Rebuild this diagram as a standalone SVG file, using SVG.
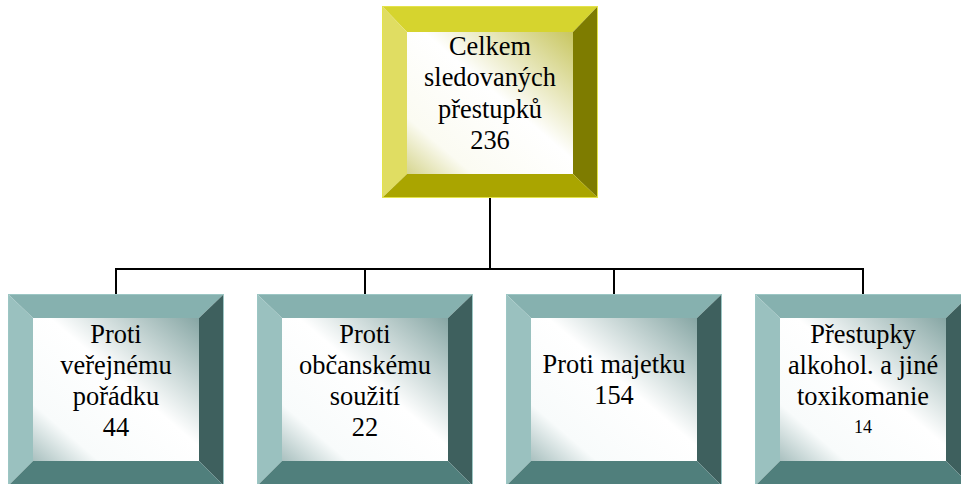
<svg xmlns="http://www.w3.org/2000/svg" width="961" height="484" viewBox="0 0 961 484">
<defs>
<linearGradient id="gy" x1="1" y1="0" x2="0" y2="1">
<stop offset="0" stop-color="#c8c660"/>
<stop offset="0.45" stop-color="#ffffff"/>
<stop offset="0.8" stop-color="#fbfbf2"/>
<stop offset="1" stop-color="#d6d58f"/>
</linearGradient>
<linearGradient id="gt" x1="1" y1="0" x2="0" y2="1">
<stop offset="0" stop-color="#86a6a4"/>
<stop offset="0.45" stop-color="#ffffff"/>
<stop offset="0.8" stop-color="#f8fbfb"/>
<stop offset="1" stop-color="#a9c0bf"/>
</linearGradient>
<style>
.y .tp{fill:#d6d42e}.y .lf{fill:#e0dd62}.y .rt{fill:#7e7c00}.y .bt{fill:#aaa500}.y .in{fill:url(#gy)}
.y .ol{fill:none;stroke:#e4e34a;stroke-width:1}
.c .tp{fill:#86b1af}.c .lf{fill:#9ac1bf}.c .rt{fill:#3e605e}.c .bt{fill:#507f7c}.c .in{fill:url(#gt)}
.c .ol{fill:none;stroke:#9cc6c4;stroke-width:1}
.ln{fill:none;stroke:#000;stroke-width:2}
</style>
</defs>
<g id="connectors">
<path class="ln" d="M490 198V269M116 269H863M116 268V294M365 268V294M614 268V294M863 268V294"/>
</g>
<g font-family="Liberation Serif, serif" font-size="26.4" text-anchor="middle" fill="#000">
<g id="n0" class="y">
<polygon class="tp" points="382,6 598,6 573,32 407,32"/>
<polygon class="lf" points="382,6 407,32 407,174 382,198"/>
<polygon class="rt" points="598,6 598,198 573,174 573,32"/>
<polygon class="bt" points="382,198 407,174 573,174 598,198"/>
<rect class="in" x="407" y="32" width="166" height="142"/>
<rect class="ol" x="382.5" y="6.5" width="215" height="191"/>
<text x="490" y="55">Celkem</text>
<text x="490" y="86">sledovaných</text>
<text x="490" y="117.5">přestupků</text>
<text x="490" y="149">236</text>
</g>
<g id="n1" class="c">
<polygon class="tp" points="8,294 224,294 199,318 33,318"/>
<polygon class="lf" points="8,294 33,318 33,461 8,486"/>
<polygon class="rt" points="224,294 224,486 199,461 199,318"/>
<polygon class="bt" points="8,486 33,461 199,461 224,486"/>
<rect class="in" x="33" y="318" width="166" height="143"/>
<rect class="ol" x="8.5" y="294.5" width="215" height="192"/>
<text x="116" y="343">Proti</text>
<text x="116" y="374">veřejnému</text>
<text x="116" y="405">pořádku</text>
<text x="116" y="436">44</text>
</g>
<g id="n2" class="c">
<polygon class="tp" points="257,294 473,294 448,318 282,318"/>
<polygon class="lf" points="257,294 282,318 282,461 257,486"/>
<polygon class="rt" points="473,294 473,486 448,461 448,318"/>
<polygon class="bt" points="257,486 282,461 448,461 473,486"/>
<rect class="in" x="282" y="318" width="166" height="143"/>
<rect class="ol" x="257.5" y="294.5" width="215" height="192"/>
<text x="365" y="343">Proti</text>
<text x="365" y="374">občanskému</text>
<text x="365" y="405">soužití</text>
<text x="365" y="436">22</text>
</g>
<g id="n3" class="c">
<polygon class="tp" points="506,294 722,294 697,318 531,318"/>
<polygon class="lf" points="506,294 531,318 531,461 506,486"/>
<polygon class="rt" points="722,294 722,486 697,461 697,318"/>
<polygon class="bt" points="506,486 531,461 697,461 722,486"/>
<rect class="in" x="531" y="318" width="166" height="143"/>
<rect class="ol" x="506.5" y="294.5" width="215" height="192"/>
<text x="614" y="373">Proti majetku</text>
<text x="614" y="404">154</text>
</g>
<g id="n4" class="c">
<polygon class="tp" points="755,294 971,294 946,318 780,318"/>
<polygon class="lf" points="755,294 780,318 780,461 755,486"/>
<polygon class="rt" points="971,294 971,486 946,461 946,318"/>
<polygon class="bt" points="755,486 780,461 946,461 971,486"/>
<rect class="in" x="780" y="318" width="166" height="143"/>
<rect class="ol" x="755.5" y="294.5" width="215" height="192"/>
<text x="863" y="343">Přestupky</text>
<text x="863" y="374">alkohol. a jiné</text>
<text x="863" y="405">toxikomanie</text>
<text x="863" y="433" font-size="18">14</text>
</g>
</g>
</svg>
